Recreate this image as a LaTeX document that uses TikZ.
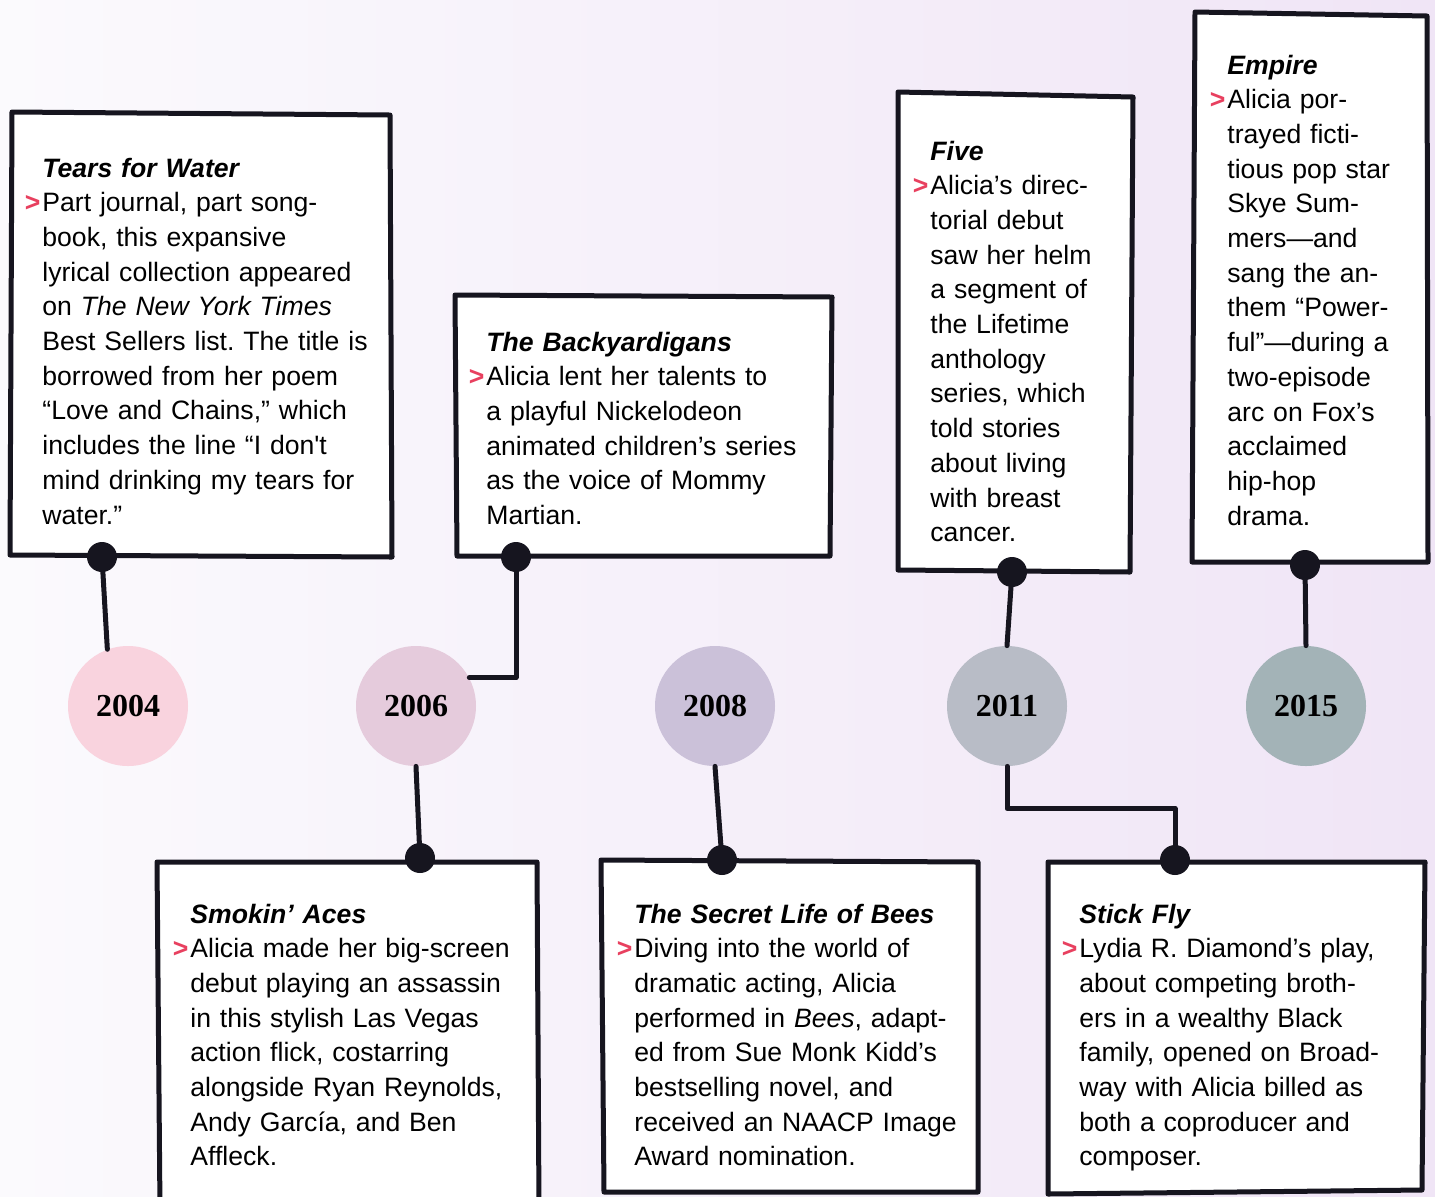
\documentclass[tikz,border=0pt]{standalone}
\usepackage{fontspec}
\setmainfont{Liberation Sans}
\newfontfamily\yearfont{Liberation Serif}
\usepackage{xcolor}
\usepackage{tikz}
\usetikzlibrary{calc}
\frenchspacing
\definecolor{inkline}{HTML}{16151F}
\definecolor{markred}{HTML}{E8405F}
\definecolor{bgleft}{HTML}{FBFAFD}
\definecolor{bgright}{HTML}{F0E5F6}
\definecolor{yrA}{HTML}{F9D3DE}
\definecolor{yrB}{HTML}{E5CBDC}
\definecolor{yrC}{HTML}{CBC1D9}
\definecolor{yrD}{HTML}{B8BCC6}
\definecolor{yrE}{HTML}{A3B3B7}
\tikzset{
	sketch/.style={draw=inkline,line width=2.5pt,line join=round,line cap=round,fill=white},
	link/.style={draw=inkline,line width=2.5pt,line join=round,line cap=round},
	yearball/.style={circle,minimum size=60pt,inner sep=0pt,font={\yearfont\bfseries\fontsize{16}{16}\selectfont}},
	blurb/.style={anchor=base west,inner sep=0pt,align=left,text width=#1,font={\fontsize{13.3}{17.35}\selectfont}},
}
\newcommand{\hd}[1]{\textbf{\textit{#1}}\\}
\newcommand{\mk}{\leavevmode\llap{\textcolor{markred}{\bfseries >}\hspace{1pt}}}

\begin{document}
\begin{tikzpicture}[x=0.5pt,y=-0.5pt]
					\clip (0,0) rectangle (1435,1196);
					\shade[left color=bgleft,right color=bgright] (0,0) rectangle (1435,1196);
					% boxes, top row
					\draw[sketch] (12,112) -- (390,115) -- (392,557) -- (10,555) -- cycle;
					\draw[sketch] (455,295) -- (832,297) -- (830,556) -- (457,556) -- cycle;
					\draw[sketch] (898,92) -- (1133,97) -- (1130,572) -- (898,570) -- cycle;
					\draw[sketch] (1195,12) -- (1427,16) -- (1428,562) -- (1192,562) -- cycle;
					% boxes, bottom row
					\draw[sketch] (157,862) -- (537,862) -- (539,1210) -- (160,1210) -- cycle;
					\draw[sketch] (601,860) -- (978,862) -- (978,1192) -- (604,1192) -- cycle;
					\draw[sketch] (1048,862) -- (1425,862) -- (1422,1190) -- (1048,1194) -- cycle;
					%\draw[sketch] (157,862) rectangle (537,1196);
					\coordinate (d1) at (102,557);
					\coordinate (d2) at (516,557);
					\coordinate (d11) at (1012,572);
					\coordinate (d15) at (1305,565);
					\coordinate (d6) at (420,858);
					\coordinate (d8) at (722,860);
					\coordinate (d11b) at (1175,860);
					\node[yearball,fill=yrA] (y2004) at (128,706) {2004};
					\node[yearball,fill=yrB] (y2006) at (416,706) {2006};
					\node[yearball,fill=yrC] (y2008) at (715,706) {2008};
					\node[yearball,fill=yrD] (y2011) at (1007,706) {2011};
					\node[yearball,fill=yrE] (y2015) at (1306,706) {2015};
					\draw[link] (d1) -- (y2004.110);
					\draw[link] (d2) |- (y2006.28);
					\draw[link] (y2006.south) -- (d6);
					\draw[link] (y2008.south) -- (d8);
					\draw[link] (d11) -- (y2011.north);
					\draw[link] (y2011.south) -- ++(0,42) -| (d11b);
					\draw[link] (d15) -- (y2015.north);
					\foreach \d in {d1,d2,d11,d15,d6,d8,d11b}
						\fill[inkline] (\d) circle (7.5pt);
					% texts
					\node[blurb=175pt] (t2004) at (42,177) {\hd{Tears for Water}\mk Part journal, part song-\\book, this expansive\\lyrical collection appeared\\on \textit{The New York Times}\\Best Sellers list. The title is\\borrowed from her poem\\“Love and Chains,” which\\includes the line “I don\textquotesingle t\\mind drinking my tears for\\water.”};
					\node[blurb=173pt] (t2006) at (486,351) {\hd{The Backyardigans}\mk Alicia lent her talents to\\a playful Nickelodeon\\animated children’s series\\as the voice of Mommy\\Martian.};
					\node[blurb=100pt] (t2011) at (930,160) {\hd{Five}\mk Alicia’s direc-\\torial debut\\saw her helm\\a segment of\\the Lifetime\\anthology\\series, which\\told stories\\about living\\with breast\\cancer.};
					\node[blurb=100pt] (t2015) at (1227,74) {\hd{Empire}\mk Alicia por-\\trayed ficti-\\tious pop star\\Skye Sum-\\mers—and\\sang the an-\\them “Power-\\ful”—during a\\two-episode\\arc on Fox’s\\acclaimed\\hip-hop\\drama.};
					\node[blurb=173pt] (t2006b) at (190,923) {\hd{Smokin’ Aces}\mk Alicia made her big-screen\\debut playing an assassin\\in this stylish Las Vegas\\action flick, costarring\\alongside Ryan Reynolds,\\Andy García, and Ben\\Affleck.};
					\node[blurb=172pt] (t2008) at (634,923) {\hd{The Secret Life of Bees}\mk Diving into the world of\\dramatic acting, Alicia\\performed in \textit{Bees}, adapt-\\ed from Sue Monk Kidd’s\\bestselling novel, and\\received an NAACP Image\\Award nomination.};
					\node[blurb=173pt] (t2011b) at (1079,923) {\hd{Stick Fly}\mk Lydia R. Diamond’s play,\\about competing broth-\\ers in a wealthy Black\\family, opened on Broad-\\way with Alicia billed as\\both a coproducer and\\composer.};
				\end{tikzpicture}
\end{document}
